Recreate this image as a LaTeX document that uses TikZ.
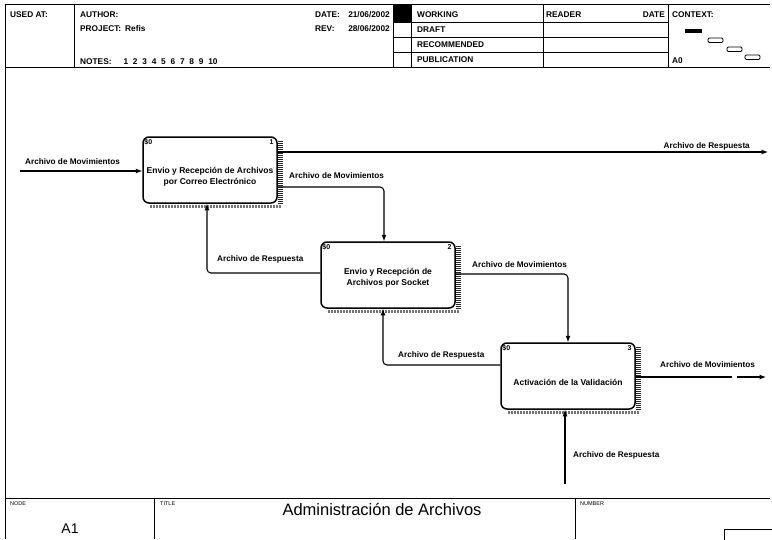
\documentclass[tikz,border=0pt]{standalone}
\usepackage{fontspec}
\setmainfont{Liberation Sans}
\usetikzlibrary{arrows.meta}
\begin{document}
\begin{tikzpicture}[x=1pt,y=-1pt,
  frame/.style={line width=0.9pt},
  hdr/.style={font=\bfseries\fontsize{8.3}{9}\selectfont, inner sep=0pt, anchor=base west},
  tiny/.style={font=\fontsize{5.5}{6}\selectfont, inner sep=0pt, anchor=base west},
  lbl/.style={font=\bfseries\fontsize{8.2}{9}\selectfont, inner sep=0pt, anchor=base west},
  act/.style={draw, line width=1.5pt, rounded corners=6pt, minimum width=134pt, minimum height=66pt, inner sep=0pt},
  acttxt/.style={font=\bfseries\fontsize{8.5}{10.6}\selectfont, align=center, inner sep=0pt},
  corner/.style={font=\bfseries\fontsize{7}{8}\selectfont, inner sep=0pt},
  hatchR/.style={line width=5pt, dash pattern=on 0.8pt off 1.2pt, black!85},
  hatchB/.style={line width=3pt, dash pattern=on 2pt off 1pt, black!55},
  flow/.style={line width=1.05pt, rounded corners=4pt, -{Latex[length=6.5pt,width=5pt]}},
]
\useasboundingbox (0,0) rectangle (772,539);

% ---------------- header ----------------
\fill (393,4) rectangle (411,22);
\draw[frame] (5,4) -- (770,4);
\draw[frame] (5,67) -- (770,67);
\draw[frame] (5,4) -- (5,539);
\draw[frame] (74,4) -- (74,67);
\draw[frame] (393,4) -- (393,67);
\draw[frame] (411,4) -- (411,67);
\draw[frame] (543,4) -- (543,67);
\draw[frame] (668,4) -- (668,67);
\draw[frame] (393,22) -- (668,22);
\draw[frame] (393,37) -- (668,37);
\draw[frame] (393,52) -- (668,52);

\node[hdr] (usedat) at (10,17) {USED AT:};
\node[hdr] (author) at (80,17) {AUTHOR:};
\node[hdr] (project) at (80,31) {PROJECT:};
\node[hdr] (refis) at (125,31) {Refis};
\node[hdr] (notes) at (80,64) {NOTES:\hspace{12pt}1\hspace{4.8pt}2\hspace{4.8pt}3\hspace{4.8pt}4\hspace{4.8pt}5\hspace{4.8pt}6\hspace{4.8pt}7\hspace{4.8pt}8\hspace{4.8pt}9\hspace{4.8pt}10};
\node[hdr] (datel) at (315,17) {DATE:};
\node[hdr, anchor=base east] (datev) at (390,17) {21/06/2002};
\node[hdr] (revl) at (315,31) {REV:};
\node[hdr, anchor=base east] (revv) at (390,31) {28/06/2002};
\node[hdr] (working) at (417,17) {WORKING};
\node[hdr] (draft) at (417,32) {DRAFT};
\node[hdr] (recom) at (417,47) {RECOMMENDED};
\node[hdr] (publ) at (417,62) {PUBLICATION};
\node[hdr] (reader) at (546,17) {READER};
\node[hdr, anchor=base east] (rdate) at (665,17) {DATE};
\node[hdr] (context) at (672,17) {CONTEXT:};
\node[hdr] (azero) at (672,63) {A0};
\fill (685,29) rectangle (702,32.5);
\draw[line width=0.8pt, rounded corners=1.2pt] (708,38) rectangle (723,42.5);
\draw[line width=0.8pt, rounded corners=1.2pt] (727,47) rectangle (742,51.5);
\draw[line width=0.8pt, rounded corners=1.2pt] (745,55) rectangle (760,59.5);

% ---------------- footer ----------------
\draw[frame] (5,498) -- (770,498);
\draw[frame] (154,498) -- (154,539);
\draw[frame] (575,498) -- (575,539);
\draw[frame] (724,545) -- (724,529) -- (775,529);
\node[tiny] (nodel) at (10,505) {NODE};
\node[tiny] (titlel) at (160,505) {TITLE};
\node[tiny] (numberl) at (580,505) {NUMBER};
\node[font=\fontsize{14}{16}\selectfont, inner sep=0pt, anchor=base] (aone) at (70,533) {A1};
\node[font=\fontsize{16.5}{18}\selectfont, inner sep=0pt, anchor=base] (title) at (382,515) {Administración de Archivos};

% ---------------- activity boxes ----------------
\node[act] (b1) at (210,170) {};
\node[act] (b2) at (388,275) {};
\node[act] (b3) at (568,376) {};

\foreach \b in {b1,b2,b3}{
  \draw[hatchR] ([xshift=3pt,yshift=-5pt]\b.north east) -- ([xshift=3pt,yshift=-1pt]\b.south east);
  \draw[hatchB] ([xshift=8pt,yshift=-2.5pt]\b.south west) -- ([xshift=4pt,yshift=-2.5pt]\b.south east);
}

\node[acttxt] (t1) at ([yshift=-7pt]b1.center) {Envio y Recepción de Archivos\\por Correo Electrónico};
\node[acttxt] (t2) at ([yshift=-3pt]b2.center) {Envio y Recepción de\\Archivos por Socket};
\node[acttxt] (t3) at ([yshift=-6pt]b3.center) {Activación de la Validación};

\node[corner, anchor=north west] (c1a) at ([xshift=2pt,yshift=-3pt]b1.north west) {\$0};
\node[corner, anchor=north east] (c1b) at ([xshift=-4pt,yshift=-3pt]b1.north east) {1};
\node[corner, anchor=north west] (c2a) at ([xshift=2pt,yshift=-3pt]b2.north west) {\$0};
\node[corner, anchor=north east] (c2b) at ([xshift=-4pt,yshift=-3pt]b2.north east) {2};
\node[corner, anchor=north west] (c3a) at ([xshift=2pt,yshift=-3pt]b3.north west) {\$0};
\node[corner, anchor=north east] (c3b) at ([xshift=-4pt,yshift=-3pt]b3.north east) {3};

% ---------------- connectors ----------------
\coordinate (inL) at (20,171);
\coordinate (outR1) at (768,152);
\coordinate (outR3) at (766,377);
\coordinate (inB) at (565,484);

\draw[flow] (inL) -- (b1.west |- inL);
\node[lbl] (l1) at (25,164) {Archivo de Movimientos};

\draw[flow] (b1.east |- outR1) -- (outR1);
\node[lbl, anchor=base east] (l2) at (750,148) {Archivo de Respuesta};

\draw[flow] ([yshift=-17pt]b1.east) -| ([xshift=-4pt]b2.north);
\node[lbl] (l3) at (289,178) {Archivo de Movimientos};

\draw[flow] ([yshift=2pt]b2.west) -| ([xshift=-3pt]b1.south);
\node[lbl] (l4) at (217,261) {Archivo de Respuesta};

\draw[flow] ([yshift=1pt]b2.east) -| (b3.north);
\node[lbl] (l5) at (472,267) {Archivo de Movimientos};

\draw[flow] ([yshift=11pt]b3.west) -| ([xshift=-5pt]b2.south);
\node[lbl] (l6) at (398,357) {Archivo de Respuesta};

\draw[flow, dash pattern=on 96pt off 5pt on 40pt] (b3.east |- outR3) -- (outR3);
\node[lbl] (l7) at (660,367) {Archivo de Movimientos};

\draw[flow] (inB) -- (b3.south -| inB);
\node[lbl] (l8) at (573,457) {Archivo de Respuesta};
\end{tikzpicture}
\end{document}
